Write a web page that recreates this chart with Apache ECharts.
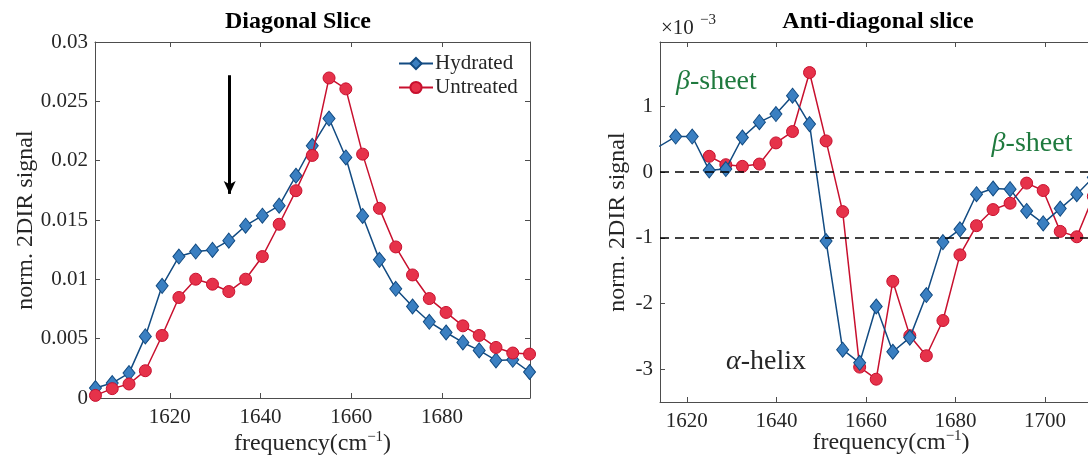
<!DOCTYPE html>
<html><head><meta charset="utf-8">
<script src="https://cdn.jsdelivr.net/npm/echarts@6/dist/echarts.min.js"></script>
<style>html,body{margin:0;padding:0;background:#fff}#c{width:1088px;height:457px}</style>
</head><body><div id="c"></div>
<script>
// ---------- data ----------
const diagFreq = [1603.6, 1607.3, 1611.0, 1614.6, 1618.3, 1622.0, 1625.7, 1629.4, 1633.0, 1636.7, 1640.4, 1644.1, 1647.8, 1651.4, 1655.1, 1658.8, 1662.5, 1666.2, 1669.8, 1673.5, 1677.2, 1680.9, 1684.6, 1688.2, 1691.9, 1695.6, 1699.3];
const diagHydrated = [0.00084, 0.00126, 0.0021, 0.00519, 0.00945, 0.01192, 0.01234, 0.01248, 0.01326, 0.01452, 0.01536, 0.01621, 0.01873, 0.02125, 0.02355, 0.02027, 0.01534, 0.01164, 0.0092, 0.00771, 0.00642, 0.00552, 0.00468, 0.00401, 0.00317, 0.00322, 0.00219];
const diagUntreated = [0.00022, 0.00079, 0.00118, 0.0023, 0.00527, 0.00847, 0.01001, 0.00959, 0.00897, 0.01001, 0.01192, 0.01464, 0.01747, 0.02044, 0.02697, 0.02605, 0.02055, 0.01598, 0.01273, 0.01037, 0.00838, 0.00721, 0.00608, 0.00527, 0.00426, 0.00379, 0.0037];

const antiFreq = [1613.8, 1617.5, 1621.2, 1625.0, 1628.7, 1632.4, 1636.2, 1639.9, 1643.6, 1647.4, 1651.1, 1654.8, 1658.6, 1662.3, 1666.0, 1669.8, 1673.5, 1677.2, 1681.0, 1684.7, 1688.4, 1692.2, 1695.9, 1699.6, 1703.4, 1707.1, 1710.8];
// values in units of 1e-3
const antiHydrated = [0.39, 0.541, 0.541, 0.026, 0.046, 0.526, 0.76, 0.883, 1.163, 0.73, -1.051, -2.704, -2.903, -2.046, -2.735, -2.52, -1.872, -1.066, -0.872, -0.337, -0.25, -0.26, -0.592, -0.781, -0.556, -0.337, -0.08];
const antiUntreated = [null, null, null, 0.24, 0.112, 0.087, 0.122, 0.444, 0.617, 1.515, 0.474, -0.602, -2.969, -3.153, -1.663, -2.49, -2.796, -2.26, -1.26, -0.816, -0.571, -0.474, -0.168, -0.281, -0.903, -0.985, -0.37];

const diagXTicks = [1620, 1640, 1660, 1680];
const diagYTicks = [0, 0.005, 0.01, 0.015, 0.02, 0.025, 0.03];
const diagYLabels = ['0', '0.005', '0.01', '0.015', '0.02', '0.025', '0.03'];
const antiXTicks = [1620, 1640, 1660, 1680, 1700];
const antiYTicks = [-3, -2, -1, 0, 1];
const antiRefLines = [0, -1];

// ---------- styling ----------
const FONT = "'Liberation Serif', 'DejaVu Serif', serif";
const AX = '#4d4d4d';
const TXT = '#262626';
const BLUE_LINE = '#124b82', BLUE_FILL = '#3a7fc1';
const RED_LINE = '#c8102e', RED_FILL = '#e6324a';
const GREEN = '#1f7a3e';

function pairs(xs, ys) { return xs.map((x, i) => [x, ys[i]]); }

const nameRich = {
  a: { fontFamily: FONT, fontSize: 24, color: TXT, lineHeight: 28 },
  s: { fontFamily: FONT, fontSize: 15, color: TXT, lineHeight: 15, verticalAlign: 'top' }
};

function xAxisBase(gi, min, max, ticks, pos, withName, nameGap) {
  return {
    type: 'value', gridIndex: gi, position: pos, min, max,
    axisLine: { show: true, onZero: false, lineStyle: { color: AX, width: 1 } },
    axisTick: { show: true, inside: true, length: 5, customValues: ticks, lineStyle: { color: AX } },
    axisLabel: { show: pos === 'bottom', customValues: ticks, margin: 9, fontFamily: FONT, fontSize: 21, color: TXT, formatter: v => String(v) },
    splitLine: { show: false },
    name: withName ? '{a|frequency(cm}{s|\u22121}{a|)}' : '',
    nameLocation: 'middle', nameGap: nameGap, nameMoveOverlap: false,
    nameTextStyle: { rich: nameRich }
  };
}
function yAxisBase(gi, min, max, ticks, pos, withName, nameGap, fmt) {
  return {
    type: 'value', gridIndex: gi, position: pos, min, max,
    axisLine: { show: true, onZero: false, lineStyle: { color: AX, width: 1 } },
    axisTick: { show: true, inside: true, length: 5, customValues: ticks, lineStyle: { color: AX } },
    axisLabel: { show: pos === 'left', customValues: ticks, margin: 7, fontFamily: FONT, fontSize: 21, color: TXT, formatter: fmt },
    splitLine: { show: false },
    name: withName ? 'norm. 2DIR signal' : '',
    nameLocation: 'middle', nameGap: nameGap, nameRotate: 90, nameMoveOverlap: false,
    nameTextStyle: { fontFamily: FONT, fontSize: 24, color: TXT }
  };
}

const chart = echarts.init(document.getElementById('c'), null, { renderer: 'canvas' });

const option = {
  animation: false,
  backgroundColor: '#fff',
  grid: [
    { left: 95, top: 42, width: 435, height: 356, outerBoundsMode: 'none', containLabel: false },
    { left: 660, top: 42, width: 462, height: 360, outerBoundsMode: 'none', containLabel: false }
  ],
  xAxis: [
    xAxisBase(0, 1603.5, 1699.4, diagXTicks, 'bottom', true, 32),
    xAxisBase(0, 1603.5, 1699.4, diagXTicks, 'top', false, 0),
    xAxisBase(1, 1614.0, 1717.2, antiXTicks, 'bottom', true, 27),
    xAxisBase(1, 1614.0, 1717.2, antiXTicks, 'top', false, 0)
  ],
  yAxis: [
    yAxisBase(0, 0, 0.03, diagYTicks, 'left', true, 57, v => diagYLabels[diagYTicks.findIndex(t => Math.abs(t - v) < 1e-9)] ?? String(v)),
    yAxisBase(0, 0, 0.03, diagYTicks, 'right', false, 0),
    yAxisBase(1, -3.5, 1.98, antiYTicks, 'left', true, 30, v => String(Math.round(v))),
    yAxisBase(1, -3.5, 1.98, antiYTicks, 'right', false, 0)
  ],
  legend: {
    orient: 'vertical', left: 393, top: 48, itemGap: 3, itemWidth: 34, itemHeight: 14,
    data: ['Hydrated', 'Untreated'],
    textStyle: { fontFamily: FONT, fontSize: 21, color: TXT, padding: [0, 0, 0, -3] }
  },
  series: [
    {
      name: 'Hydrated', type: 'line', xAxisIndex: 0, yAxisIndex: 0, z: 2,
      data: pairs(diagFreq, diagHydrated),
      symbol: 'diamond', symbolSize: [12, 15],
      lineStyle: { color: BLUE_LINE, width: 1.5 },
      itemStyle: { color: BLUE_FILL, borderColor: BLUE_LINE, borderWidth: 1 },
      markLine: {
        silent: true, symbol: ['none', 'arrow'], symbolSize: [9, 13],
        label: { show: false },
        lineStyle: { color: '#000', width: 3, type: 'solid' },
        data: [[{ coord: [1633.2, 0.0272] }, { coord: [1633.2, 0.0172] }]]
      }
    },
    {
      name: 'Untreated', type: 'line', xAxisIndex: 0, yAxisIndex: 0, z: 3,
      data: pairs(diagFreq, diagUntreated),
      symbol: 'circle', symbolSize: 12,
      lineStyle: { color: RED_LINE, width: 1.5 },
      itemStyle: { color: RED_FILL, borderColor: RED_LINE, borderWidth: 1 }
    },
    {
      name: 'Untreated', type: 'line', xAxisIndex: 2, yAxisIndex: 2, z: 2,
      data: pairs(antiFreq, antiUntreated),
      symbol: 'circle', symbolSize: 12, connectNulls: false,
      lineStyle: { color: RED_LINE, width: 1.5 },
      itemStyle: { color: RED_FILL, borderColor: RED_LINE, borderWidth: 1 },
      markLine: {
        silent: true, symbol: ['none', 'none'],
        label: { show: false },
        lineStyle: { color: '#000', width: 1.5, type: [9, 6] },
        data: antiRefLines.map(v => ({ yAxis: v }))
      }
    },
    {
      name: 'Hydrated', type: 'line', xAxisIndex: 2, yAxisIndex: 2, z: 3,
      data: pairs(antiFreq, antiHydrated),
      symbol: 'diamond', symbolSize: [12, 15],
      lineStyle: { color: BLUE_LINE, width: 1.5 },
      itemStyle: { color: BLUE_FILL, borderColor: BLUE_LINE, borderWidth: 1 },
      markPoint: {
        silent: true, symbol: 'rect', symbolSize: 0,
        itemStyle: { color: 'transparent' },
        label: {
          show: true, position: 'inside', fontFamily: FONT, fontSize: 27,
          rich: {
            gi: { fontFamily: FONT, fontSize: 28, fontStyle: 'italic', color: GREEN },
            g: { fontFamily: FONT, fontSize: 28, color: GREEN },
            ki: { fontFamily: FONT, fontSize: 28, fontStyle: 'italic', color: TXT },
            k: { fontFamily: FONT, fontSize: 28, color: TXT }
          }
        },
        data: [
          { coord: [1626.6, 1.37], label: { formatter: '{gi|\u03b2}{g|-sheet}' } },
          { coord: [1697.1, 0.44], label: { formatter: '{gi|\u03b2}{g|-sheet}' } },
          { coord: [1637.7, -2.88], label: { formatter: '{ki|\u03b1}{k|-helix}' } }
        ]
      }
    }
  ],
  graphic: [
    { type: 'text', x: 298, y: 22, style: { text: 'Diagonal Slice', font: "bold 24px 'Liberation Serif', serif", fill: '#000', align: 'center', verticalAlign: 'middle' } },
    { type: 'text', x: 878, y: 22, style: { text: 'Anti-diagonal slice', font: "bold 24px 'Liberation Serif', serif", fill: '#000', align: 'center', verticalAlign: 'middle' } },
    { type: 'text', x: 661, y: 28, style: { text: '\u00d710', font: "21px 'Liberation Serif', serif", fill: TXT, align: 'left', verticalAlign: 'middle' } },
    { type: 'text', x: 700, y: 20, style: { text: '\u22123', font: "15px 'Liberation Serif', serif", fill: TXT, align: 'left', verticalAlign: 'middle' } }
  ]
};
chart.setOption(option);
</script>
</body></html>
